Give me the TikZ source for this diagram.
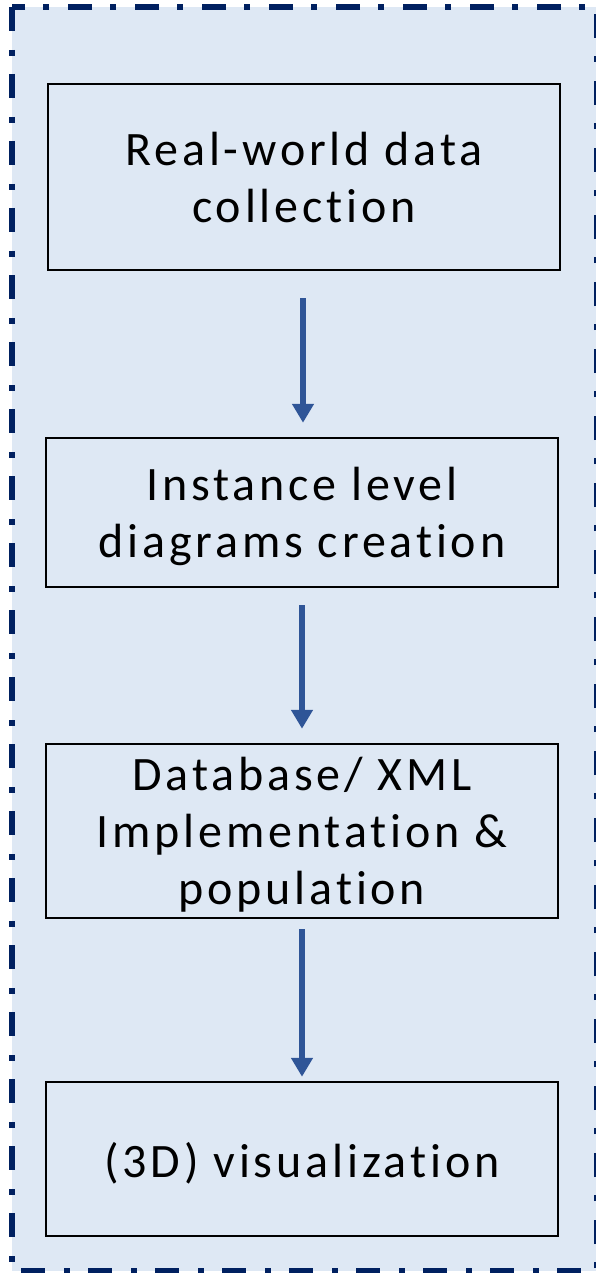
\documentclass[tikz,border=0pt]{standalone}
\usepackage{fontspec}
\setmainfont[LetterSpace=8, Ligatures=NoCommon]{Carlito}
\usetikzlibrary{arrows.meta}
\definecolor{panelfill}{HTML}{DEE8F4}
\definecolor{panelborder}{HTML}{002060}
\definecolor{flowblue}{HTML}{2F5597}
\tikzset{
  stagebox/.style={draw=black, line width=2.5pt, fill=panelfill,
    minimum width=512pt, inner sep=0pt},
  stagetext/.style={align=center, inner sep=0pt, yshift=-4pt,
    font=\fontsize{48}{57}\selectfont},
  flowarrow/.style={draw=flowblue, line width=6pt,
    -{Triangle[width=21pt,length=19pt]}},
}
\begin{document}
\begin{tikzpicture}[x=1pt,y=-1pt]
  \useasboundingbox (0,0) rectangle (595,1273);
  % dash-dot frame around the workflow
  \draw[panelborder, fill=panelfill, line width=5.5pt,
        dash pattern=on 24pt off 19pt on 6pt off 18pt]
    (12,7) rectangle (597,1271);
  % workflow stages
  \node[stagebox, minimum height=186pt,
        label={[stagetext, yshift=3pt]center:Real-world data\\collection}]
    (collect) at (304,177) {};
  \node[stagebox, minimum height=149pt,
        label={[stagetext]center:Instance level\\diagrams creation}]
    (diagrams) at (302,512.5) {};
  \node[stagebox, minimum height=174pt,
        label={[stagetext]center:Database/ XML\\Implementation \&\\population}]
    (database) at (302,831) {};
  \node[stagebox, minimum height=154pt,
        label={[stagetext]center:(3D) visualization}]
    (visual) at (302,1159) {};
  % arrows between stages
  \draw[flowarrow, shorten <=27pt, shorten >=14pt]
    ([xshift=-1pt]collect.south) -- ([xshift=-1pt]collect.south |- diagrams.north);
  \draw[flowarrow, shorten <=17pt, shorten >=14pt]
    (diagrams.south) -- (database.north);
  \draw[flowarrow, shorten <=10pt, shorten >=4pt]
    (database.south) -- (visual.north);
\end{tikzpicture}
\end{document}
